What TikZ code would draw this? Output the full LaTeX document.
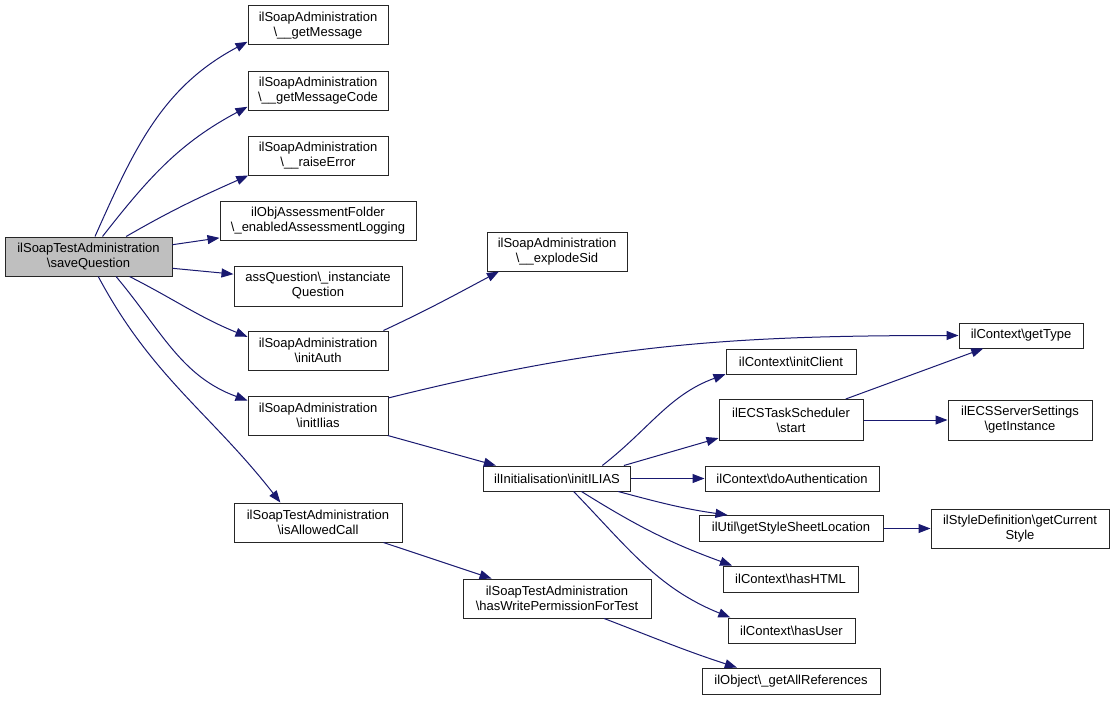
\documentclass[tikz,border=0pt]{standalone}
\usepackage{fontspec}
\setmainfont{Liberation Sans}
\usetikzlibrary{arrows.meta}
\definecolor{edgeblue}{RGB}{25,25,112}
\definecolor{selgray}{RGB}{191,191,191}
\newcommand{\bs}{\textbackslash}
\begin{document}
\begin{tikzpicture}[x=1pt,y=-1pt,
  box/.style={draw=black!85, line width=1pt, fill=white, align=center, inner sep=0pt,
    font=\fontsize{13}{15}\selectfont},
  edge/.style={draw=edgeblue, line width=1pt, -{Triangle[length=12pt,width=9pt]}}]
\useasboundingbox[fill=white] (0,0) rectangle (1115,701);
% nodes
\node[box, fill=selgray, minimum width=167pt, minimum height=39pt] (sq) at (88.5,256.5) {ilSoapTestAdministration\\\bs saveQuestion};
\node[box, minimum width=140pt, minimum height=39pt] (gm) at (318,25.5) {ilSoapAdministration\\\bs\_\_getMessage};
\node[box, minimum width=140pt, minimum height=39pt] (gmc) at (318,90.5) {ilSoapAdministration\\\bs\_\_getMessageCode};
\node[box, minimum width=140pt, minimum height=39pt] (re) at (318,155.5) {ilSoapAdministration\\\bs\_\_raiseError};
\node[box, minimum width=196pt, minimum height=39pt] (eal) at (318,220.5) {ilObjAssessmentFolder\\\bs\_enabledAssessmentLogging};
\node[box, minimum width=168pt, minimum height=40pt] (iq) at (318,286) {assQuestion\bs\_instanciate\\Question};
\node[box, minimum width=140pt, minimum height=39pt] (ia) at (318,350.5) {ilSoapAdministration\\\bs initAuth};
\node[box, minimum width=140pt, minimum height=39pt] (ii) at (318,415.5) {ilSoapAdministration\\\bs initIlias};
\node[box, minimum width=168pt, minimum height=39pt] (iac) at (318,522.5) {ilSoapTestAdministration\\\bs isAllowedCall};
\node[box, minimum width=140pt, minimum height=39pt] (es) at (557,251.5) {ilSoapAdministration\\\bs\_\_explodeSid};
\node[box, minimum width=147pt, minimum height=25pt] (il) at (557,478.5) {ilInitialisation\bs initILIAS};
\node[box, minimum width=188pt, minimum height=39pt] (hwp) at (557,598.5) {ilSoapTestAdministration\\\bs hasWritePermissionForTest};
\node[box, minimum width=124pt, minimum height=25pt] (gt) at (1021,335.5) {ilContext\bs getType};
\node[box, minimum width=130pt, minimum height=25pt] (ic) at (791,361.5) {ilContext\bs initClient};
\node[box, minimum width=144pt, minimum height=41pt] (st) at (791,420) {ilECSTaskScheduler\\\bs start};
\node[box, minimum width=144pt, minimum height=40pt] (gi) at (1020,420) {ilECSServerSettings\\\bs getInstance};
\node[box, minimum width=174pt, minimum height=25pt] (da) at (792,478.5) {ilContext\bs doAuthentication};
\node[box, minimum width=184pt, minimum height=26pt] (gs) at (791,528.5) {ilUtil\bs getStyleSheetLocation};
\node[box, minimum width=178pt, minimum height=39pt] (gc) at (1020,528.5) {ilStyleDefinition\bs getCurrent\\Style};
\node[box, minimum width=135pt, minimum height=26pt] (hh) at (790.5,579) {ilContext\bs hasHTML};
\node[box, minimum width=127pt, minimum height=25pt] (hu) at (791.5,630.5) {ilContext\bs hasUser};
\node[box, minimum width=178pt, minimum height=26pt] (ga) at (791,681) {ilObject\bs\_getAllReferences};
% edges
\draw[edge] (sq.72) to[out=66,in=208] (gm.193);
\draw[edge] (sq.55) to[out=52,in=208] (gmc.193);
\draw[edge] (sq.28) to[out=30,in=204] (re.196);
\draw[edge] (sq.8) -- (eal.190);
\draw[edge] (sq.-8) -- (iq.172);
\draw[edge] (sq.-26) to[out=-27,in=158] (ia.169);
\draw[edge] (sq.-36) to[out=-50,in=160] (ii.168);
\draw[edge] (sq.-64) to[out=-62,in=128] (iac.152);
\draw[edge] (ia.17) to[out=25,in=208] (es.199);
\draw[edge] (ii.14) to[out=14,in=180] (gt.west);
\draw[edge] (ii.-16) -- (il.168);
\draw[edge] (iac.-17) -- (hwp.163);
\draw[edge] (il.16) to[out=38,in=200] (ic.191);
\draw[edge] (il.11) -- (st.194);
\draw[edge] (il.east) -- (da.west);
\draw[edge] (il.-12) to[out=-15,in=172] (gs.168);
\draw[edge] (il.-28) to[out=-32,in=160] (hh.167);
\draw[edge] (il.-38) to[out=-46,in=158] (hu.168);
\draw[edge] (st.21) -- (gt.199);
\draw[edge] (st.east) -- (gi.west);
\draw[edge] (gs.east) -- (gc.west);
\draw[edge] (hwp.-23) to[out=-21,in=162] (ga.166);
\end{tikzpicture}
\end{document}
